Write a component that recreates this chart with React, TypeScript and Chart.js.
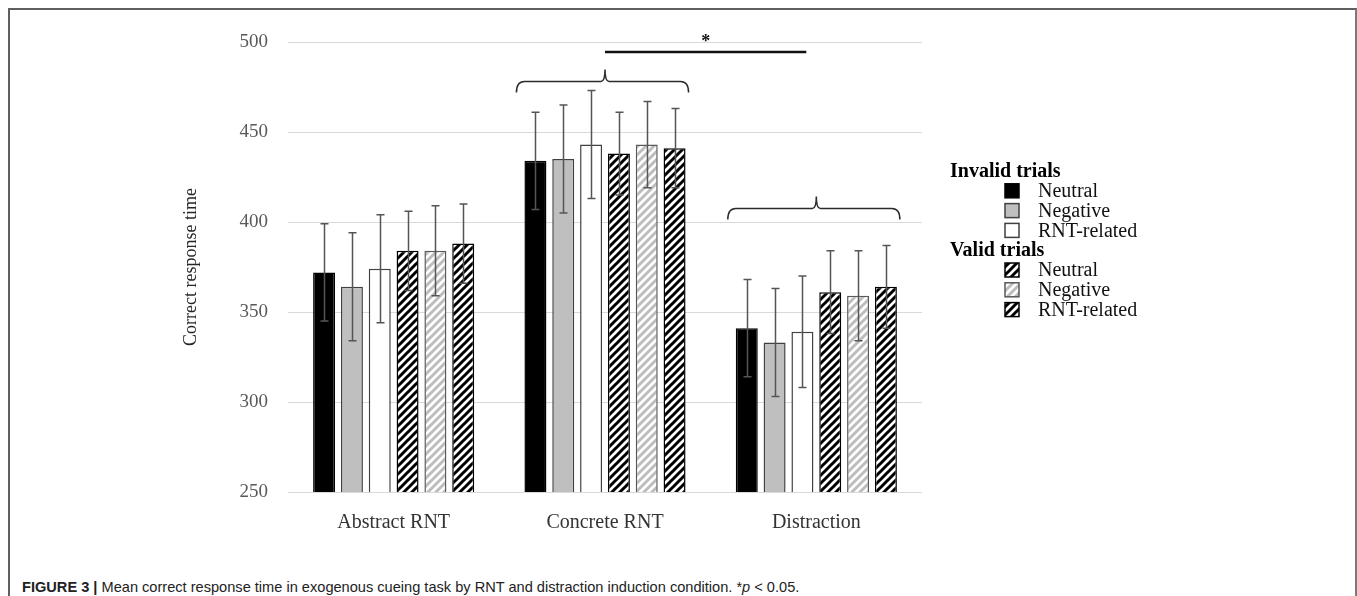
import React, { useEffect, useRef } from "react";
import { Chart, registerables } from "chart.js";

Chart.register(...registerables);

// ---------- data ----------
const categories = ["Abstract RNT", "Concrete RNT", "Distraction"];
const yTicks = [250, 300, 350, 400, 450, 500];
const legendTitles = ["Invalid trials", "Valid trials"];
const seriesNames = ["Neutral", "Negative", "RNT-related", "Neutral", "Negative", "RNT-related"];

const invalidNeutral = [372, 434, 341];
const invalidNegative = [364, 435, 333];
const invalidRnt = [374, 443, 339];
const validNeutral = [384, 438, 361];
const validNegative = [384, 443, 359];
const validRnt = [388, 441, 364];

const invalidNeutralErr = [27, 27, 27];
const invalidNegativeErr = [30, 30, 30];
const invalidRntErr = [30, 30, 31];
const validNeutralErr = [22, 23, 23];
const validNegativeErr = [25, 24, 25];
const validRntErr = [22, 22, 23];

// significance annotation (value space)
const braceGroups = [1, 2];
const braceLevels = [478, 407.5];
const sigLineLevel = 494.5;
const sigText = "*";

const yTitle = "Correct response time";

function makeHatch(ctx: CanvasRenderingContext2D, stripe: string, bg: string) {
  const c = document.createElement("canvas");
  c.width = 8;
  c.height = 8;
  const g = c.getContext("2d")!;
  g.fillStyle = bg;
  g.fillRect(0, 0, 8, 8);
  g.strokeStyle = stripe;
  g.lineWidth = 3;
  g.beginPath();
  g.moveTo(-2, 10);
  g.lineTo(10, -2);
  g.moveTo(-2, 2);
  g.lineTo(2, -2);
  g.moveTo(6, 10);
  g.lineTo(10, 6);
  g.stroke();
  return ctx.createPattern(c, "repeat")!;
}

export default function App() {
  const ref = useRef<HTMLCanvasElement>(null);

  useEffect(() => {
    const canvas = ref.current!;
    const ctx = canvas.getContext("2d")!;
    const hatchBlack = makeHatch(ctx, "#000000", "#ffffff");
    const hatchGray = makeHatch(ctx, "#bdbdbd", "#ffffff");

    const seriesValues = [invalidNeutral, invalidNegative, invalidRnt, validNeutral, validNegative, validRnt];
    const seriesErrors = [invalidNeutralErr, invalidNegativeErr, invalidRntErr, validNeutralErr, validNegativeErr, validRntErr];
    const fills: any[] = ["#000000", "#bfbfbf", "#ffffff", hatchBlack, hatchGray, hatchBlack];
    const borders = ["#000000", "#404040", "#404040", "#000000", "#595959", "#000000"];

    const datasets = seriesValues.map((vals, i) => ({
      label: seriesNames[i],
      data: vals,
      errors: seriesErrors[i],
      backgroundColor: fills[i],
      borderColor: borders[i],
      borderWidth: 1.5,
      categoryPercentage: 0.79,
      barPercentage: 0.79,
    }));

    const errorBars = {
      id: "errorBars",
      afterDatasetsDraw(chart: any) {
        const c = chart.ctx;
        const ys = chart.scales.y;
        c.save();
        c.strokeStyle = "#555555";
        c.lineWidth = 1.5;
        chart.data.datasets.forEach((ds: any, i: number) => {
          const meta = chart.getDatasetMeta(i);
          meta.data.forEach((bar: any, j: number) => {
            const v = ds.data[j];
            const e = ds.errors[j];
            const x = Math.round(bar.x) + 0.5;
            const yt = ys.getPixelForValue(v + e);
            const yb = ys.getPixelForValue(v - e);
            c.beginPath();
            c.moveTo(x, yt);
            c.lineTo(x, yb);
            c.moveTo(x - 4, yt);
            c.lineTo(x + 4, yt);
            c.moveTo(x - 4, yb);
            c.lineTo(x + 4, yb);
            c.stroke();
          });
        });
        c.restore();
      },
    };

    const annotations = {
      id: "annotations",
      afterDraw(chart: any) {
        const c = chart.ctx;
        const ys = chart.scales.y;
        const xs = chart.scales.x;
        c.save();
        c.strokeStyle = "#2b2b2b";
        c.lineWidth = 1.5;
        const centers: number[] = [];
        braceGroups.forEach((g, k) => {
          const first = chart.getDatasetMeta(0).data[g];
          const last = chart.getDatasetMeta(chart.data.datasets.length - 1).data[g];
          const x1 = first.x - first.width / 2 - 8;
          const x2 = last.x + last.width / 2 + 3;
          const xc = xs.getPixelForValue(g);
          centers.push(xc);
          const y = ys.getPixelForValue(braceLevels[k]);
          c.beginPath();
          c.moveTo(x1, y + 11);
          c.quadraticCurveTo(x1, y, x1 + 8, y);
          c.lineTo(xc - 4, y);
          c.quadraticCurveTo(xc, y, xc, y - 12);
          c.quadraticCurveTo(xc, y, xc + 4, y);
          c.lineTo(x2 - 8, y);
          c.quadraticCurveTo(x2, y, x2, y + 11);
          c.stroke();
        });
        // significance line
        const ly = ys.getPixelForValue(sigLineLevel);
        const lx1 = centers[0];
        const lx2 = centers[1] - 10;
        c.lineWidth = 2.5;
        c.strokeStyle = "#111111";
        c.beginPath();
        c.moveTo(lx1, ly);
        c.lineTo(lx2, ly);
        c.stroke();
        c.fillStyle = "#111111";
        c.font = "bold 18px 'Liberation Serif'";
        c.textAlign = "center";
        c.textBaseline = "middle";
        c.fillText(sigText, (lx1 + lx2) / 2, ly - 10);
        c.restore();
      },
    };

    const customLegend = {
      id: "customLegend",
      afterDraw(chart: any) {
        const c = chart.ctx;
        c.save();
        const tx = 950;
        const bx = 1005;
        const lx = 1038;
        let y = 171;
        const rowH = 19.8;
        c.textBaseline = "middle";
        c.textAlign = "left";
        chart.data.datasets.forEach((ds: any, i: number) => {
          if (i % 3 === 0) {
            c.fillStyle = "#000000";
            c.font = "bold 20px 'Liberation Serif'";
            c.fillText(legendTitles[i / 3], tx, y + 1);
            y += rowH;
          }
          c.fillStyle = ds.backgroundColor;
          c.fillRect(bx, y - 7, 14, 14);
          c.strokeStyle = ds.borderColor;
          c.lineWidth = 1.5;
          c.strokeRect(bx, y - 7, 14, 14);
          c.fillStyle = "#111111";
          c.font = "20px 'Liberation Serif'";
          c.fillText(ds.label, lx, y + 1);
          y += rowH;
        });
        c.restore();
      },
    };

    const chart = new Chart(canvas, {
      type: "bar",
      data: { labels: categories, datasets: datasets as any },
      options: {
        animation: false,
        responsive: false,
        maintainAspectRatio: false,
        layout: { padding: { left: 160, right: 435, top: 42, bottom: 43 } },
        plugins: {
          legend: { display: false },
          tooltip: { enabled: false },
        },
        scales: {
          x: {
            grid: { display: false, drawTicks: false },
            border: { display: false },
            ticks: {
              padding: 19,
              color: "#333333",
              font: { family: "'Liberation Serif'", size: 20 },
            },
            afterFit(s: any) {
              s.height = 40;
            },
          },
          y: {
            min: 250,
            max: 500,
            afterBuildTicks(s: any) {
              s.ticks = yTicks.map((v) => ({ value: v }));
            },
            grid: { color: "#d9d9d9", lineWidth: 1, drawTicks: false },
            border: { display: false },
            ticks: {
              padding: 20,
              color: "#595959",
              font: { family: "'Liberation Serif'", size: 19 },
            },
            title: {
              display: true,
              text: yTitle,
              color: "#262626",
              font: { family: "'Liberation Serif'", size: 18 },
              padding: { top: 20, bottom: 0 },
            },
            afterFit(s: any) {
              s.width = 128;
            },
          },
        },
      },
      plugins: [errorBars, annotations, customLegend],
    });
    return () => chart.destroy();
  }, []);

  return (
    <div style={{ position: "fixed", left: 0, top: 0, width: 1357, height: 596, overflow: "hidden", background: "#fff" }}>
      <div
        style={{
          position: "absolute",
          left: 8,
          top: 8,
          width: 1345,
          height: 700,
          borderTop: "2px solid #5f5f5f",
          borderLeft: "2px solid #5f5f5f",
          borderRight: "2px solid #7a7a7a",
        }}
      />
      <canvas ref={ref} width={1357} height={575} style={{ position: "absolute", left: 0, top: 0 }} />
      <div
        style={{
          position: "absolute",
          left: 22,
          top: 578,
          fontFamily: "'Liberation Sans', Arial, sans-serif",
          fontSize: 14.6,
          color: "#222",
          whiteSpace: "nowrap",
          lineHeight: "18px",
        }}
      >
        <b>FIGURE 3 |</b> Mean correct response time in exogenous cueing task by RNT and distraction induction condition. *
        <i>p</i> &lt; 0.05.
      </div>
    </div>
  );
}
